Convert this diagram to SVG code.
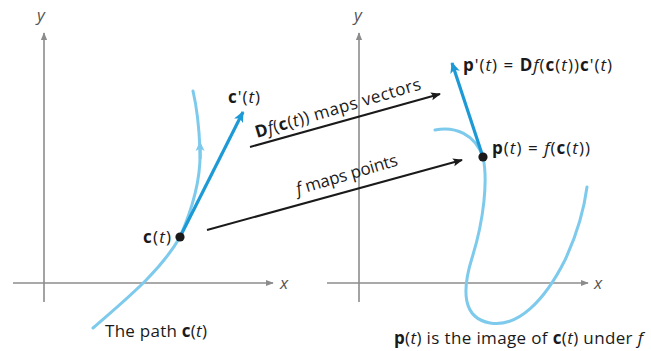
<svg xmlns="http://www.w3.org/2000/svg" width="651" height="351" viewBox="0 0 651 351">
<defs>
<style>
.ax{stroke:#8c8c8c;stroke-width:1.6;fill:none}
.path{stroke:#7dcaec;stroke-width:3;fill:none;stroke-linecap:round}
.vec{stroke:#1d9ad6;stroke-width:3.2;fill:none}
.map{stroke:#1a1a1a;stroke-width:2;fill:none}
text{font-family:"Open Sans","Noto Sans",sans-serif;font-size:17px;fill:#1a1a1a}
.b{font-weight:bold}
.i{font-style:italic}
.lbl{font-style:italic;fill:#555;font-size:17px}
</style>
<marker id="axh" viewBox="0 0 10 10" refX="9" refY="5" markerWidth="8" markerHeight="8" markerUnits="userSpaceOnUse" orient="auto"><path d="M0,1 L10,5 L0,9 Z" fill="#8c8c8c"/></marker>
<marker id="blk" viewBox="0 0 10 10" refX="9" refY="5" markerWidth="12" markerHeight="10" markerUnits="userSpaceOnUse" orient="auto"><path d="M0,1 L10,5 L0,9 L2,5 Z" fill="#1a1a1a"/></marker>
<marker id="blu" viewBox="0 0 10 10" refX="9" refY="5" markerWidth="13" markerHeight="11" markerUnits="userSpaceOnUse" orient="auto"><path d="M0,0.5 L10,5 L0,9.5 L2.5,5 Z" fill="#1d9ad6"/></marker>
<marker id="lbu" viewBox="0 0 10 10" refX="5" refY="5" markerWidth="11" markerHeight="10" markerUnits="userSpaceOnUse" orient="auto"><path d="M0,0.5 L10,5 L0,9.5 L2.5,5 Z" fill="#7dcaec"/></marker>
</defs>
<g id="axes-left">
<line class="ax" x1="44" y1="302" x2="44" y2="33" marker-end="url(#axh)"/>
<line class="ax" x1="13" y1="283" x2="273" y2="283" marker-end="url(#axh)"/>
<text class="lbl" x="37" y="21">y</text>
<text class="lbl" x="280" y="289">x</text>
</g>
<g id="axes-right">
<line class="ax" x1="359" y1="302" x2="359" y2="33" marker-end="url(#axh)"/>
<line class="ax" x1="327" y1="283" x2="588" y2="283" marker-end="url(#axh)"/>
<text class="lbl" x="354" y="21">y</text>
<text class="lbl" x="594" y="289">x</text>
</g>
<g id="path-c">
<path class="path" d="M93,328 C125,300 160,272 180,237 C194,205 201,175 200,150 C199,125 197,108 193,91"/>
<path class="path" d="M200.2,158 L200,146" marker-end="url(#lbu)"/>
</g>
<g id="vector-c">
<line class="vec" x1="180" y1="237" x2="243" y2="112" marker-end="url(#blu)"/>
<circle cx="180" cy="237" r="4.6" fill="#1a1a1a"/>
<text x="228" y="103" textLength="32" lengthAdjust="spacing"><tspan class="b">c</tspan>'(<tspan class="i">t</tspan>)</text>
<text x="143" y="243" textLength="28" lengthAdjust="spacing"><tspan class="b">c</tspan>(<tspan class="i">t</tspan>)</text>
<text x="105" y="337" textLength="102" lengthAdjust="spacing">The path <tspan class="b">c</tspan>(<tspan class="i">t</tspan>)</text>
</g>
<g id="path-p">
<path class="path" d="M435,130 C455,126 475,134 483,157 C488,180 484,220 472,258 C462,290 462,318 490,323 C518,328 545,300 565,260 C578,232 584,210 587,187"/>
</g>
<g id="vector-p">
<line class="vec" x1="483" y1="157" x2="452" y2="63" marker-end="url(#blu)"/>
<circle cx="483" cy="157" r="4.6" fill="#1a1a1a"/>
<text x="463" y="71" textLength="149" lengthAdjust="spacing"><tspan class="b">p</tspan>'(<tspan class="i">t</tspan>) = <tspan class="b">D</tspan><tspan class="i">f</tspan>(<tspan class="b">c</tspan>(<tspan class="i">t</tspan>))<tspan class="b">c</tspan>'(<tspan class="i">t</tspan>)</text>
<text x="492" y="154" textLength="98" lengthAdjust="spacing"><tspan class="b">p</tspan>(<tspan class="i">t</tspan>) = <tspan class="i">f</tspan>(<tspan class="b">c</tspan>(<tspan class="i">t</tspan>))</text>
<text x="394" y="344" textLength="249" lengthAdjust="spacing"><tspan class="b">p</tspan>(<tspan class="i">t</tspan>) is the image of <tspan class="b">c</tspan>(<tspan class="i">t</tspan>) under <tspan class="i">f</tspan></text>
</g>
<g id="connectors">
<line class="map" x1="250" y1="147" x2="440" y2="94" marker-end="url(#blk)"/>
<line class="map" x1="207" y1="230" x2="462" y2="160" marker-end="url(#blk)"/>
<text transform="translate(257,138) rotate(-16.5)" textLength="172" lengthAdjust="spacing"><tspan class="b">D</tspan><tspan class="i">f</tspan>(<tspan class="b">c</tspan>(<tspan class="i">t</tspan>)) maps vectors</text>
<text transform="translate(298,195) rotate(-16.5)" textLength="105" lengthAdjust="spacing"><tspan class="i">f</tspan> maps points</text>
</g>
</svg>
